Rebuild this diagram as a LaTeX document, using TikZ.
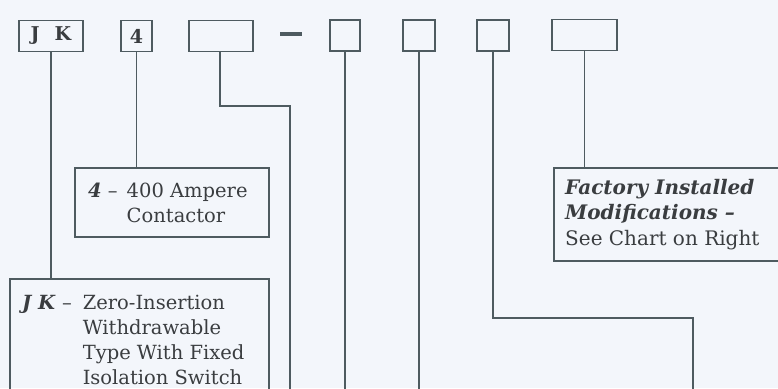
\documentclass[tikz,border=0pt]{standalone}
\usepackage{fontspec}
\setmainfont{DejaVu Serif}
\usetikzlibrary{calc}
\definecolor{bg}{HTML}{F3F6FB}
\definecolor{ln}{HTML}{4E5B60}
\definecolor{tx}{HTML}{3A3D40}
\tikzset{
  topbox/.style={draw=ln, line width=1.8pt, inner sep=0pt, minimum height=31pt, font=\bfseries\fontsize{19}{19}\selectfont, text=tx},
  descbox/.style={draw=ln, line width=1.6pt, inner sep=0pt, anchor=north west},
  desctext/.style={anchor=north west, inner sep=0pt, text=tx, font=\fontsize{19.5}{25}\selectfont, align=left},
  conn/.style={draw=ln, line width=1.8pt},
}
\begin{document}
\begin{tikzpicture}[x=1pt,y=-1pt]
\fill[bg] (0,0) rectangle (778,388);
\useasboundingbox (0,0) rectangle (778,388);
\clip (0,0) rectangle (778,388);
% top code boxes
\node[topbox, minimum width=64pt] (jk) at (51,36) {\raisebox{-1.5pt}{J\hspace{15pt}K}};
\node[topbox, minimum width=31pt] (four) at (136.5,36) {\raisebox{-1.5pt}{4}};
\node[topbox, minimum width=64pt] (b3) at (221,36) {};
\node[fill=ln, inner sep=0pt, minimum width=22pt, minimum height=3.5pt] (dash) at (291,34) {};
\node[topbox, minimum width=30pt] (b4) at (345,35.5) {};
\node[topbox, minimum width=32pt] (b5) at (419,35.5) {};
\node[topbox, minimum width=32pt] (b6) at (493,35.5) {};
\node[topbox, minimum width=65pt] (b7) at (584.5,35) {};
% description boxes
\node[descbox, minimum width=194pt, minimum height=69pt] (fourd) at (74,167) {};
\node[desctext] (fourt) at (88,180)
  {\begin{tabular}{@{}l@{\hspace{9pt}}l@{}}\textbf{\textit{4}} –&400 Ampere\\ &Contactor\end{tabular}};
\node[descbox, minimum width=259pt, minimum height=140pt] (jkd) at (9,278) {};
\node[desctext] (jkt) at (22,292)
  {\begin{tabular}{@{}l@{\hspace{11pt}}l@{}}\textbf{\textit{J K}} –&Zero-Insertion\\ &Withdrawable\\ &Type With Fixed\\ &Isolation Switch\end{tabular}};
\node[descbox, minimum width=240pt, minimum height=93pt] (fmd) at (553,167) {};
\node[desctext, font=\fontsize{20}{25.5}\selectfont] (fmt) at (565,179)
  {\textbf{\textit{Factory Installed}}\\\textbf{\textit{Modifications –}}\\See Chart on Right};
% connectors
\coordinate (e3) at (290,395);
\coordinate (e4) at (345,395);
\coordinate (e5) at (419,395);
\coordinate (e6) at (693,395);
\coordinate (k3) at (220,106);
\coordinate (k6) at (493,318);
\draw[conn] (jk.south) -- (jk.south |- jkd.north);
\draw[conn] (four.south) -- (four.south |- fourd.north);
\draw[conn] (b3.south -| k3) -- (k3) -| (e3);
\draw[conn] (b4.south) -- (e4);
\draw[conn] (b5.south) -- (e5);
\draw[conn] (b6.south) -- (k6) -| (e6);
\draw[conn] (b7.south) -- (b7.south |- fmd.north);
\end{tikzpicture}
\end{document}
